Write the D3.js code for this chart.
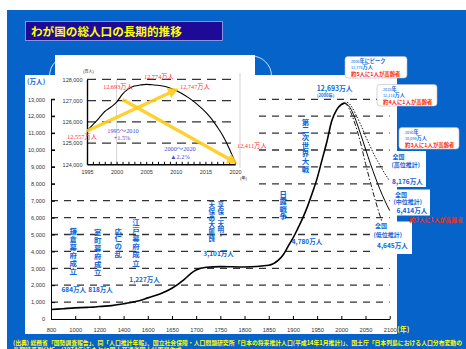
<!DOCTYPE html>
<html lang="ja">
<head>
<meta charset="UTF-8">
<style>
  body { margin: 0; background: #fff; }
  svg { display: block; font-family: "Liberation Sans", "Noto Sans CJK JP", sans-serif; }
  .jp { font-family: "Noto Sans CJK JP", sans-serif; font-weight: bold; }
  .vt { writing-mode: vertical-rl; }
  .serif { font-family: "Liberation Serif", "Noto Sans CJK JP", serif; }
  .grid line { stroke: #333; stroke-width: 1.3; stroke-dasharray: 7,6; }
  .igrid line { stroke: #333; stroke-width: 1.2; stroke-dasharray: 9,6; }
  .axis path, .axis line { stroke: #000; }
  .axis text { fill: #333; }
</style>
</head>
<body>
<svg id="chart" width="466" height="349"></svg>
<script src="https://cdnjs.cloudflare.com/ajax/libs/d3/7.8.5/d3.min.js"></script>
<script>
// ---- main chart data (万人) ----
const xTicks = [800, 1000, 1200, 1400, 1600, 1650, 1700, 1750, 1800, 1850, 1900, 1950, 2000, 2050, 2100]
const yTicks = [0, 1000, 2000, 3000, 4000, 5000, 6000, 7000, 8000, 9000, 10000, 11000, 12000, 13000]
const gridTicks = yTicks.slice(1)

const histYears = [800, 900, 1000, 1100, 1150, 1200, 1300, 1400, 1450, 1500, 1550, 1600, 1625, 1650, 1675, 1690, 1700, 1721, 1750, 1800, 1850, 1870, 1880, 1890, 1900, 1910, 1920, 1930, 1940, 1950, 1960, 1970, 1980, 1990, 2000, 2006]
const histPop   = [560, 610, 660, 690, 700, 740, 790, 900, 960, 1030, 1120, 1250, 1480, 1820, 2330, 2720, 2900, 3060, 3101, 3080, 3180, 3480, 3800, 4300, 4780, 5350, 5950, 6650, 7450, 8320, 9400, 10470, 11700, 12360, 12693, 12774]

const projYears = [2006, 2010, 2020, 2030, 2040, 2050, 2060, 2070, 2080, 2090, 2100]
const projHigh  = [12774, 12830, 12620, 12100, 11500, 10825, 10200, 9600, 9100, 8600, 8176]
const projMid   = [12774, 12747, 12411, 11758, 10934, 10059, 9200, 8400, 7660, 7000, 6414]
const projLow   = [12774, 12710, 12200, 11400, 10400, 9203, 8100, 7050, 6100, 5300, 4645]

// ---- inset data (千人) ----
const insetYears = [1995, 1996, 1997, 1998, 1999, 2000, 2001, 2002, 2003, 2004, 2005, 2006, 2007, 2008, 2009, 2010, 2011, 2012, 2013, 2014, 2015, 2016, 2017, 2018, 2019, 2020]
const insetPop   = [125570, 125864, 126166, 126486, 126686, 126926, 127300, 127550, 127680, 127730, 127760, 127740, 127720, 127670, 127590, 127470, 127330, 127160, 126960, 126730, 126470, 126150, 125760, 125320, 124760, 124110]
const insetYTicks = [124000, 125000, 126000, 127000, 128000]
const insetXTicks = [1995, 2000, 2005, 2010, 2015, 2020]
const arrowUp   = [[1995, 125570], [2010, 127500]]
const arrowDown = [[2001, 127050], [2020, 124100]]

// ---- callouts ----
const calloutYear = ['2006', '2025', '2050']
const calloutHead = ['年にピーク', '年', '年']
const calloutPop  = ['12,774', '12,114', '10,059']
const calloutNote = ['約5人に1人が高齢者', '約4人に1人が高齢者', '約3人に1人が高齢者']

const blue = '#0d66d8'
const red = '#ff3333'
const svg = d3.select('#chart')

// background
svg.append('rect').attr('x', 7).attr('y', 10).attr('width', 459).attr('height', 339).attr('fill', '#0563c9')
svg.append('rect').attr('x', 49.5).attr('y', 56).attr('width', 222).attr('height', 120).attr('rx', 20)
    .attr('fill', 'none').attr('stroke', '#fff').attr('stroke-width', 0.8)

// title
svg.append('rect').attr('x', 25.5).attr('y', 21.5).attr('width', 197).attr('height', 19)
    .attr('fill', '#1d0a96').attr('stroke', '#a8a8f0').attr('stroke-width', 0.8)
svg.append('text').attr('class', 'jp').attr('x', 31).attr('y', 35.5).attr('font-size', 11.6)
    .attr('fill', '#ffff00').text('わが国の総人口の長期的推移')

// main white panel
svg.append('rect').attr('x', 25).attr('y', 75).attr('width', 372).attr('height', 259).attr('fill', '#fff')

// scales
const step = (389.7 - 51) / (xTicks.length - 1)
const x = d3.scaleLinear().domain(xTicks).range(xTicks.map((d, i) => 51 + i * step))
const y = d3.scaleLinear().domain([0, 13000]).range([319, 99.3])

// grid
svg.append('g').attr('class', 'grid')
  .selectAll('line').data(gridTicks).enter().append('line')
    .attr('x1', x(800)).attr('x2', x(2100))
    .attr('y1', d => y(d)).attr('y2', d => y(d))

// axes
svg.append('g').attr('class', 'axis')
    .attr('transform', `translate(0, ${y(0)})`)
    .call(d3.axisBottom(x).tickValues(xTicks).tickFormat(d3.format('d')).tickSize(-3).tickSizeOuter(0).tickPadding(8.5))
    .call(g => g.selectAll('text').attr('font-size', 5.8))
svg.append('g').attr('class', 'axis')
    .attr('transform', `translate(${x(800)}, 0)`)
    .call(d3.axisLeft(y).tickValues(yTicks).tickFormat(d3.format(',')).tickSize(-4).tickSizeOuter(0).tickPadding(6))
    .call(g => g.selectAll('text').attr('font-size', 5.6))

svg.append('text').attr('class', 'jp').attr('x', 27).attr('y', 84).attr('font-size', 6.6).attr('fill', blue).text('(万人)')
svg.append('text').attr('class', 'jp').attr('x', 397).attr('y', 332).attr('font-size', 7).attr('fill', '#ffff00').text('(年)')

// main curves
const line = d3.line().x(d => x(d[0])).y(d => y(d[1])).curve(d3.curveMonotoneX)
svg.append('path').datum(d3.zip(histYears, histPop)).attr('d', line)
    .attr('fill', 'none').attr('stroke', '#000').attr('stroke-width', 1.6)
svg.append('path').datum(d3.zip(projYears, projHigh)).attr('d', line)
    .attr('fill', 'none').attr('stroke', '#000').attr('stroke-width', 0.9).attr('stroke-dasharray', '1.5,1.5')
svg.append('path').datum(d3.zip(projYears, projLow)).attr('d', line)
    .attr('fill', 'none').attr('stroke', '#000').attr('stroke-width', 0.9).attr('stroke-dasharray', '5,2,1.5,2')
svg.append('path').datum(d3.zip(projYears, projMid)).attr('d', line)
    .attr('fill', 'none').attr('stroke', '#000').attr('stroke-width', 1)

// event labels, written top to bottom
function vtext(px, top, str, size, stepY) {
  svg.append('text').attr('class', 'jp vt').attr('x', px).attr('y', top)
      .attr('font-size', size).attr('fill', blue)
      .style('letter-spacing', (stepY - size) + 'px').text(str)
}
vtext(73.3, 227, '鎌倉幕府成立', 7.4, 8)
vtext(97.7, 228.5, '室町幕府成立', 7.4, 8)
vtext(118.3, 227, '応仁の乱', 7.4, 7.9)
vtext(136, 218.5, '江戸幕府成立', 7.4, 8.1)
vtext(220.7, 201.5, '享保・天明・', 6.6, 6.2)
vtext(211.7, 201.5, '天保の大飢饉', 6.6, 6.7)
vtext(283.3, 190, '日露戦争', 7.4, 7.6)
vtext(305.5, 118, '第二次世界大戦', 7.4, 7.9)

function label(px, py, str, size, color) {
  svg.append('text').attr('class', 'jp').attr('x', px).attr('y', py).attr('font-size', size || 6.5)
      .attr('fill', color || blue).text(str)
}
label(61.5, 291.5, '684万人')
label(88.3, 291.5, '818万人')
label(129.3, 281.5, '1,227万人')
label(203.3, 256, '3,101万人')
label(291.7, 244.3, '4,780万人')
label(316.7, 91, '12,693万人', 6.8)
label(317, 97, '(2000年)', 4.2)

// ---- inset ----
svg.append('rect').attr('x', 55).attr('y', 55).attr('width', 200).attr('height', 131).attr('fill', '#fff')
const xi = d3.scaleLinear().domain([1995, 2020]).range([87, 235])
const yi = d3.scaleLinear().domain([124000, 128000]).range([164.3, 79.3])

svg.append('line').attr('x1', xi(2000)).attr('x2', xi(2000)).attr('y1', yi(128000)).attr('y2', yi(124000))
    .attr('stroke', '#c8c8c8').attr('stroke-width', 0.8)
svg.append('line').attr('x1', xi(2020) + 5).attr('x2', xi(2020) + 5).attr('y1', 73).attr('y2', 168)
    .attr('stroke', '#c8c8c8').attr('stroke-width', 0.8)

svg.append('g').attr('class', 'igrid')
  .selectAll('line').data(insetYTicks.slice(1)).enter().append('line')
    .attr('x1', xi(1995)).attr('x2', xi(2020) + 2)
    .attr('y1', d => yi(d)).attr('y2', d => yi(d))

svg.append('g').attr('class', 'axis')
    .attr('transform', `translate(0, ${yi(124000)})`)
    .call(d3.axisBottom(xi).tickValues(insetYears).tickFormat(d => insetXTicks.includes(d) ? d : '')
      .tickSize(-2.5).tickSizeOuter(0).tickPadding(6))
    .call(g => g.select('.domain').attr('stroke-width', 1.4))
    .call(g => g.selectAll('text').attr('font-size', 5.5))
svg.append('g').attr('class', 'axis')
    .attr('transform', `translate(${xi(1995)}, 0)`)
    .call(d3.axisLeft(yi).tickValues(insetYTicks).tickFormat(d3.format(',')).tickSize(0).tickSizeOuter(0).tickPadding(4.5))
    .call(g => g.select('.domain').attr('stroke-width', 1.4))
    .call(g => g.selectAll('text').attr('font-size', 5.5))

svg.append('text').attr('x', 83).attr('y', 73).attr('font-size', 4).attr('fill', '#555').attr('class', 'jp').text('(万人)')
svg.append('text').attr('x', 240).attr('y', 180).attr('font-size', 4).attr('fill', '#555').attr('class', 'jp').text('(年)')

const iline = d3.line().x(d => xi(d[0])).y(d => yi(d[1])).curve(d3.curveMonotoneX)
svg.append('path').datum(d3.zip(insetYears, insetPop)).attr('d', iline)
    .attr('fill', 'none').attr('stroke', '#000').attr('stroke-width', 1.1)

const defs = svg.append('defs')
defs.append('marker').attr('id', 'ah').attr('viewBox', '0 0 10 10').attr('refX', 7).attr('refY', 5)
    .attr('markerWidth', 3.2).attr('markerHeight', 3.2).attr('orient', 'auto').attr('markerUnits', 'strokeWidth')
  .append('path').attr('d', 'M0,0L10,5L0,10Z').attr('fill', '#ffcc1a')
const aline = d3.line().x(d => xi(d[0])).y(d => yi(d[1]))
;[arrowUp, arrowDown].forEach(a => {
  svg.append('path').datum(a).attr('d', aline).attr('fill', 'none')
      .attr('stroke', '#ffcc1a').attr('stroke-width', 3.4).attr('opacity', 0.9).attr('marker-end', 'url(#ah)')
})

function ilabel(px, py, str, color, anchor) {
  svg.append('text').attr('class', 'serif').attr('x', px).attr('y', py).attr('font-size', 6.3)
      .attr('fill', color).attr('text-anchor', anchor || 'start').text(str)
}
ilabel(97, 138.5, '12,557万人', red, 'end')
ilabel(103, 89, '12,693万人', red)
ilabel(144, 78.5, '12,774万人', red)
ilabel(180, 89, '12,747万人', red)
ilabel(237, 147.5, '12,411万人', red)
ilabel(123, 132.5, '1995〜2010', '#4a4ad8', 'middle')
ilabel(122, 139.5, '+1.5%', '#4a4ad8', 'middle')
ilabel(180, 150.5, '2000〜2020', '#4a4ad8', 'middle')
ilabel(180, 158.5, '▲2.2%', '#4a4ad8', 'middle')

// ---- callouts ----
const boxes = [[345, 56.5, 62], [377, 84.5, 60], [399, 127.5, 60]]
boxes.forEach((b, i) => {
  const g = svg.append('g').attr('transform', `translate(${b[0]}, ${b[1]})`)
  g.append('rect').attr('width', b[2]).attr('height', 21.5).attr('rx', 3)
      .attr('fill', '#fff').attr('stroke', '#b8b8c8').attr('stroke-width', 0.6)
  const t1 = g.append('text').attr('x', 6).attr('y', 6.2).attr('class', 'jp').attr('fill', blue)
  t1.append('tspan').attr('font-size', 3.8).attr('font-weight', 'normal').text(calloutYear[i])
  t1.append('tspan').attr('font-size', 5.2).text(calloutHead[i])
  const t2 = g.append('text').attr('x', 6).attr('y', 12.8).attr('class', 'jp').attr('fill', blue)
  t2.append('tspan').attr('font-size', 3.8).attr('font-weight', 'normal').text(calloutPop[i])
  t2.append('tspan').attr('font-size', 5.2).text('万人')
  g.append('text').attr('x', 6).attr('y', 19.4).attr('class', 'jp').attr('font-size', 5.4)
      .attr('fill', '#ff2a00').text(calloutNote[i])
})

// variant labels
svg.append('rect').attr('x', 389).attr('y', 151).attr('width', 37).attr('height', 36).attr('fill', '#fff')
svg.append('rect').attr('x', 392).attr('y', 189.5).attr('width', 38).attr('height', 26).attr('fill', '#fff')
svg.append('rect').attr('x', 371).attr('y', 221.5).attr('width', 41).attr('height', 32.5).attr('fill', '#fff')
label(392.5, 159, '全国', 6)
label(391.5, 166.5, '(高位推計)', 6)
label(392, 183.5, '8,176万人', 6.6)
label(395, 196.5, '全国', 6)
label(393.5, 204, '(中位推計)', 6)
label(396.5, 212.8, '6,414万人', 6.6)
label(409.5, 221.5, '約3人に1人が高齢者', 5.8, '#ff2a00')
label(375, 228.3, '全国', 6)
label(373.5, 236.6, '(低位推計)', 6)
label(377, 247.5, '4,645万人', 6.6)

// source
svg.append('text').attr('class', 'jp').attr('x', 13).attr('y', 344.5).attr('font-size', 6)
    .attr('fill', '#ffff00').attr('textLength', 449).attr('lengthAdjust', 'spacingAndGlyphs')
    .text('(出典) 総務省「国勢調査報告」、同「人口推計年報」、国立社会保障・人口問題研究所「日本の将来推計人口(平成14年1月推計)」、国土庁「日本列島における人口分布変動の')
svg.append('text').attr('class', 'jp').attr('x', 13).attr('y', 352).attr('font-size', 6)
    .attr('fill', '#ffff00').text('長期時系列分析」(1974年)をもとに国土交通省国土計画局作成')
</script>
</body>
</html>
